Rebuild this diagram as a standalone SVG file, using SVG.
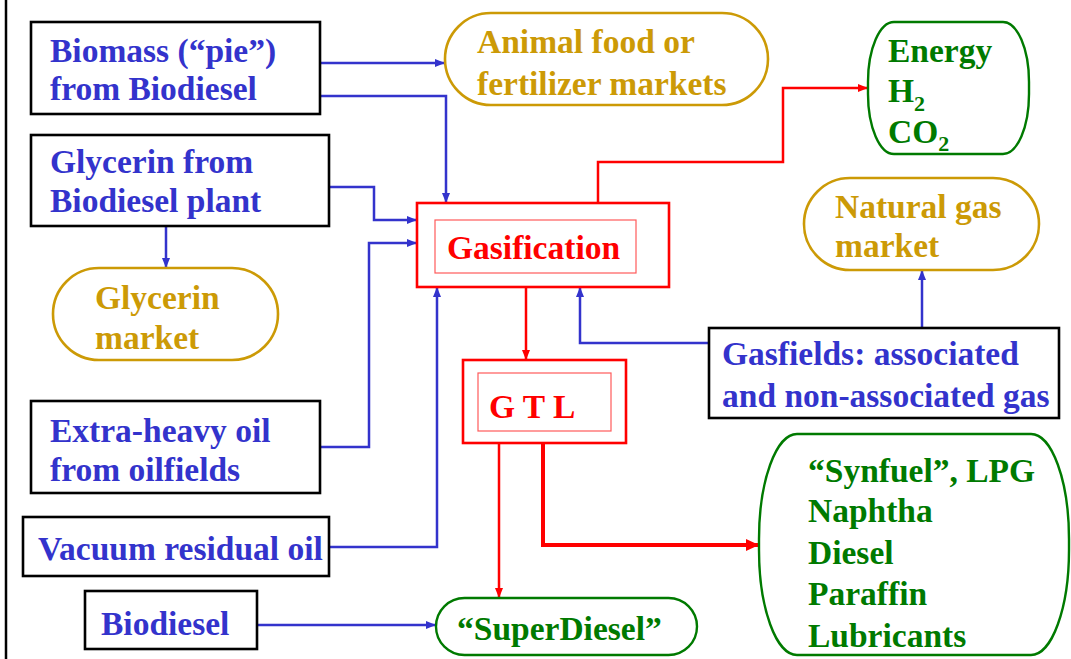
<svg xmlns="http://www.w3.org/2000/svg" width="1071" height="659" viewBox="0 0 1071 659">
<style>
text{font-family:"Liberation Serif","Times New Roman",serif;font-weight:bold;font-size:33.5px}
.box{fill:#fff;stroke:#000;stroke-width:2.6}
.gold{fill:#fff;stroke:#CC9A06;stroke-width:2.6}
.green{fill:#fff;stroke:#007A00;stroke-width:2.4}
.rbox{fill:#fff;stroke:#FF0000;stroke-width:2.6}
.rin{fill:none;stroke:#FF5A5A;stroke-width:1.2}
.tb{fill:#3333CC}
.tg{fill:#CC9A06}
.tgr{fill:#007A00}
.tr{fill:#FF0000}
.cb{fill:none;stroke:#3333CC;stroke-width:2.5;marker-end:url(#ab)}
.cr{fill:none;stroke:#FF0000;stroke-width:2.5;marker-end:url(#ar)}
.crt{fill:none;stroke:#FF0000;stroke-width:4;marker-end:url(#arb)}
</style>
<defs>
<marker id="ab" markerUnits="userSpaceOnUse" markerWidth="10" markerHeight="8" refX="10" refY="4" orient="auto"><path d="M0,0 L10,4 L0,8 z" fill="#3333CC"/></marker>
<marker id="ar" markerUnits="userSpaceOnUse" markerWidth="10" markerHeight="8" refX="10" refY="4" orient="auto"><path d="M0,0 L10,4 L0,8 z" fill="#FF0000"/></marker>
<marker id="arb" markerUnits="userSpaceOnUse" markerWidth="13" markerHeight="12" refX="13" refY="6" orient="auto"><path d="M0,0 L13,6 L0,12 z" fill="#FF0000"/></marker>
</defs>
<rect width="1071" height="659" fill="#fff"/>
<line x1="6" y1="0" x2="6" y2="659" stroke="#000" stroke-width="2.5"/>

<g id="connectors">
<path class="cb" d="M320,63 H445"/>
<path class="cb" d="M320,96 H446 V203"/>
<path class="cb" d="M329,187 H374 V220 H417"/>
<path class="cb" d="M166,226 V268"/>
<path class="cb" d="M320,447 H369 V243 H417"/>
<path class="cb" d="M329,547 H437 V287"/>
<path class="cb" d="M709,343 H580 V287"/>
<path class="cb" d="M922,328 V270"/>
<path class="cb" d="M257,625 H436"/>
<path class="cr" d="M598,203 V162 H783 V88 H868"/>
<path class="cr" d="M526,287 V360"/>
<path class="cr" d="M499,443 V598"/>
<path class="crt" d="M543,443 V545 H759"/>
</g>

<g id="biomass">
<rect class="box" x="31" y="22" width="289" height="92"/>
<text class="tb" x="50" y="62">Biomass (“pie”)</text>
<text class="tb" x="50" y="100">from Biodiesel</text>
</g>
<g id="glycerin">
<rect class="box" x="31" y="135" width="298" height="91"/>
<text class="tb" x="50" y="173">Glycerin from</text>
<text class="tb" x="50" y="212">Biodiesel plant</text>
</g>
<g id="glycerin-market">
<rect class="gold" x="53" y="268" width="225" height="92" rx="46" ry="46"/>
<text class="tg" x="95" y="309">Glycerin</text>
<text class="tg" x="95" y="349">market</text>
</g>
<g id="extra-heavy">
<rect class="box" x="31" y="401" width="289" height="92"/>
<text class="tb" x="50" y="442">Extra-heavy oil</text>
<text class="tb" x="50" y="481">from oilfields</text>
</g>
<g id="vacuum">
<rect class="box" x="23" y="517" width="306" height="59"/>
<text class="tb" x="38" y="560">Vacuum residual oil</text>
</g>
<g id="biodiesel">
<rect class="box" x="85" y="591" width="172" height="58"/>
<text class="tb" x="101" y="635">Biodiesel</text>
</g>
<g id="animal-food">
<rect class="gold" x="445" y="13" width="323" height="92" rx="46" ry="46"/>
<text class="tg" x="477" y="53">Animal food or</text>
<text class="tg" x="477" y="95">fertilizer markets</text>
</g>
<g id="gasification">
<rect class="rbox" x="417" y="203" width="252" height="84"/>
<rect class="rin" x="435" y="220" width="201" height="53"/>
<text class="tr" x="447" y="259">Gasification</text>
</g>
<g id="gtl">
<rect class="rbox" x="463" y="360" width="163" height="83"/>
<rect class="rin" x="478" y="373" width="133" height="58"/>
<text class="tr" x="489" y="418" font-size="44">G T L</text>
</g>
<g id="energy">
<rect class="green" x="868" y="22" width="161" height="132" rx="26" ry="60"/>
<text class="tgr" x="888" y="62">Energy</text>
<text class="tgr" x="888" y="102">H<tspan font-size="22" dy="9">2</tspan></text>
<text class="tgr" x="888" y="143">CO<tspan font-size="22" dy="8">2</tspan></text>
</g>
<g id="natural-gas">
<rect class="gold" x="804" y="178" width="235" height="92" rx="46" ry="46"/>
<text class="tg" x="835" y="218">Natural gas</text>
<text class="tg" x="835" y="257">market</text>
</g>
<g id="gasfields">
<rect class="box" x="709" y="328" width="350" height="90"/>
<text class="tb" x="722" y="365">Gasfields: associated</text>
<text class="tb" x="722" y="407">and non-associated gas</text>
</g>
<g id="synfuel">
<rect class="green" x="759" y="434" width="310" height="221" rx="38" ry="105"/>
<text class="tgr" x="808" y="482" font-size="34.5">“Synfuel”, LPG</text>
<text class="tgr" x="808" y="522" font-size="34.5">Naphtha</text>
<text class="tgr" x="808" y="564" font-size="34.5">Diesel</text>
<text class="tgr" x="808" y="605" font-size="34.5">Paraffin</text>
<text class="tgr" x="808" y="647" font-size="34.5">Lubricants</text>
</g>
<g id="superdiesel">
<rect class="green" x="436" y="598" width="261" height="57" rx="28.5" ry="28.5"/>
<text class="tgr" x="457" y="640">“SuperDiesel”</text>
</g>
</svg>
